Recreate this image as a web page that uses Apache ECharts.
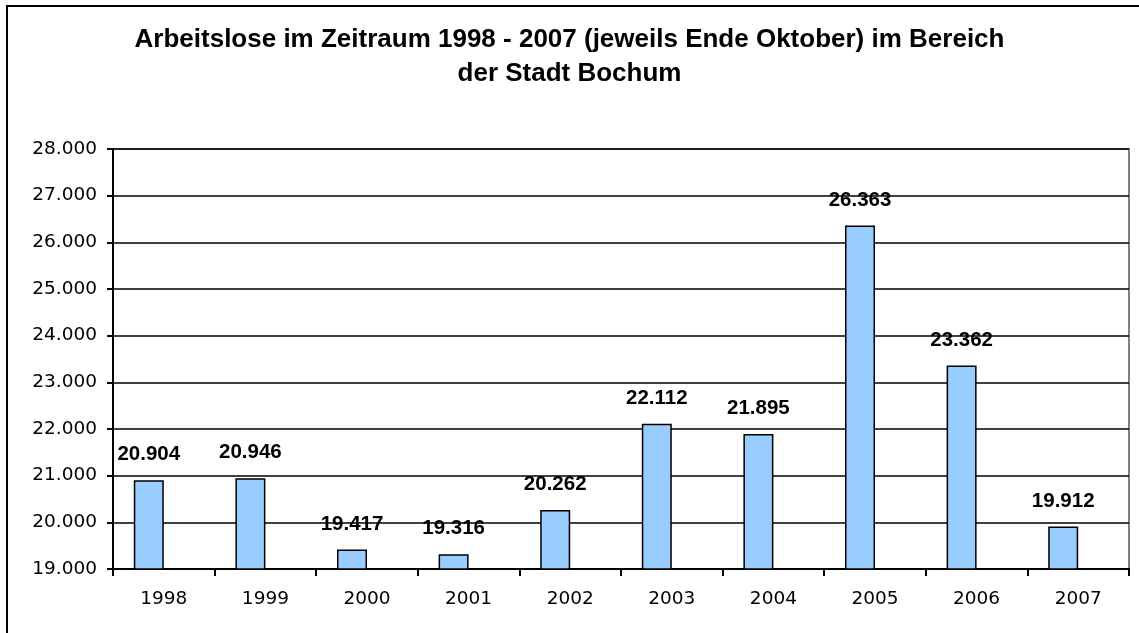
<!DOCTYPE html>
<html>
<head>
<meta charset="utf-8">
<script src="https://cdn.jsdelivr.net/npm/echarts@6/dist/echarts.min.js"></script>
<style>
html,body{margin:0;padding:0;background:#fff;overflow:hidden;}
#frame{position:absolute;left:6px;top:5px;width:2000px;height:2000px;border-left:2px solid #000;border-top:2px solid #000;}
#chart{position:absolute;left:0;top:0;width:1139px;height:633px;}
</style>
</head>
<body>
<div id="frame"></div>
<div id="chart"></div>
<script>
var titleLines = ['Arbeitslose im Zeitraum 1998 - 2007 (jeweils Ende Oktober) im Bereich', 'der Stadt Bochum'];
var categories = ['1998','1999','2000','2001','2002','2003','2004','2005','2006','2007'];
var values = [20904, 20946, 19417, 19316, 20262, 22112, 21895, 26363, 23362, 19912];
var emptySeries = [null,null,null,null,null,null,null,null,null,null];

function fmt(v){ return String(v).replace(/\B(?=(\d{3})+(?!\d))/g, '.'); }

var chart = echarts.init(document.getElementById('chart'));
chart.setOption({
  animation: false,
  backgroundColor: 'transparent',
  title: {
    text: titleLines.join('\n'),
    left: 'center',
    top: 18,
    padding: [5, 0, 5, 7],
    textStyle: {fontFamily: 'Liberation Sans, Arial', fontWeight: 'bold', fontSize: 26, lineHeight: 34, color: '#000'}
  },
  grid: {left: 113, right: 10, top: 149, bottom: 64, show: true, borderColor: '#808080', borderWidth: 2},
  xAxis: {
    type: 'category',
    data: categories,
    axisLine: {lineStyle: {color: '#000', width: 2}},
    axisTick: {show: true, length: 7, lineStyle: {color: '#000', width: 2}},
    axisLabel: {fontFamily: 'DejaVu Sans', fontSize: 18.5, color: '#000', margin: 21}
  },
  yAxis: {
    type: 'value',
    min: 19000, max: 28000, interval: 1000,
    axisLine: {show: true, lineStyle: {color: '#000', width: 2}},
    axisTick: {show: true, length: 6, lineStyle: {color: '#000', width: 2}},
    axisLabel: {fontFamily: 'DejaVu Sans', fontSize: 18.5, color: '#000', margin: 16, formatter: fmt},
    splitLine: {lineStyle: {color: '#000', width: 1.5}}
  },
  series: [
    {
      type: 'bar', data: values, barWidth: 30, barGap: '0%',
      itemStyle: {color: '#99CCFF', borderColor: '#000', borderWidth: 1.5},
      label: {show: true, position: 'top', distance: 15, formatter: function(p){return fmt(p.value);},
        fontFamily: 'Liberation Sans, Arial', fontWeight: 'bold', fontSize: 20.5, color: '#000'}
    },
    {type: 'bar', data: emptySeries, barWidth: 30}
  ]
});
</script>
</body>
</html>
